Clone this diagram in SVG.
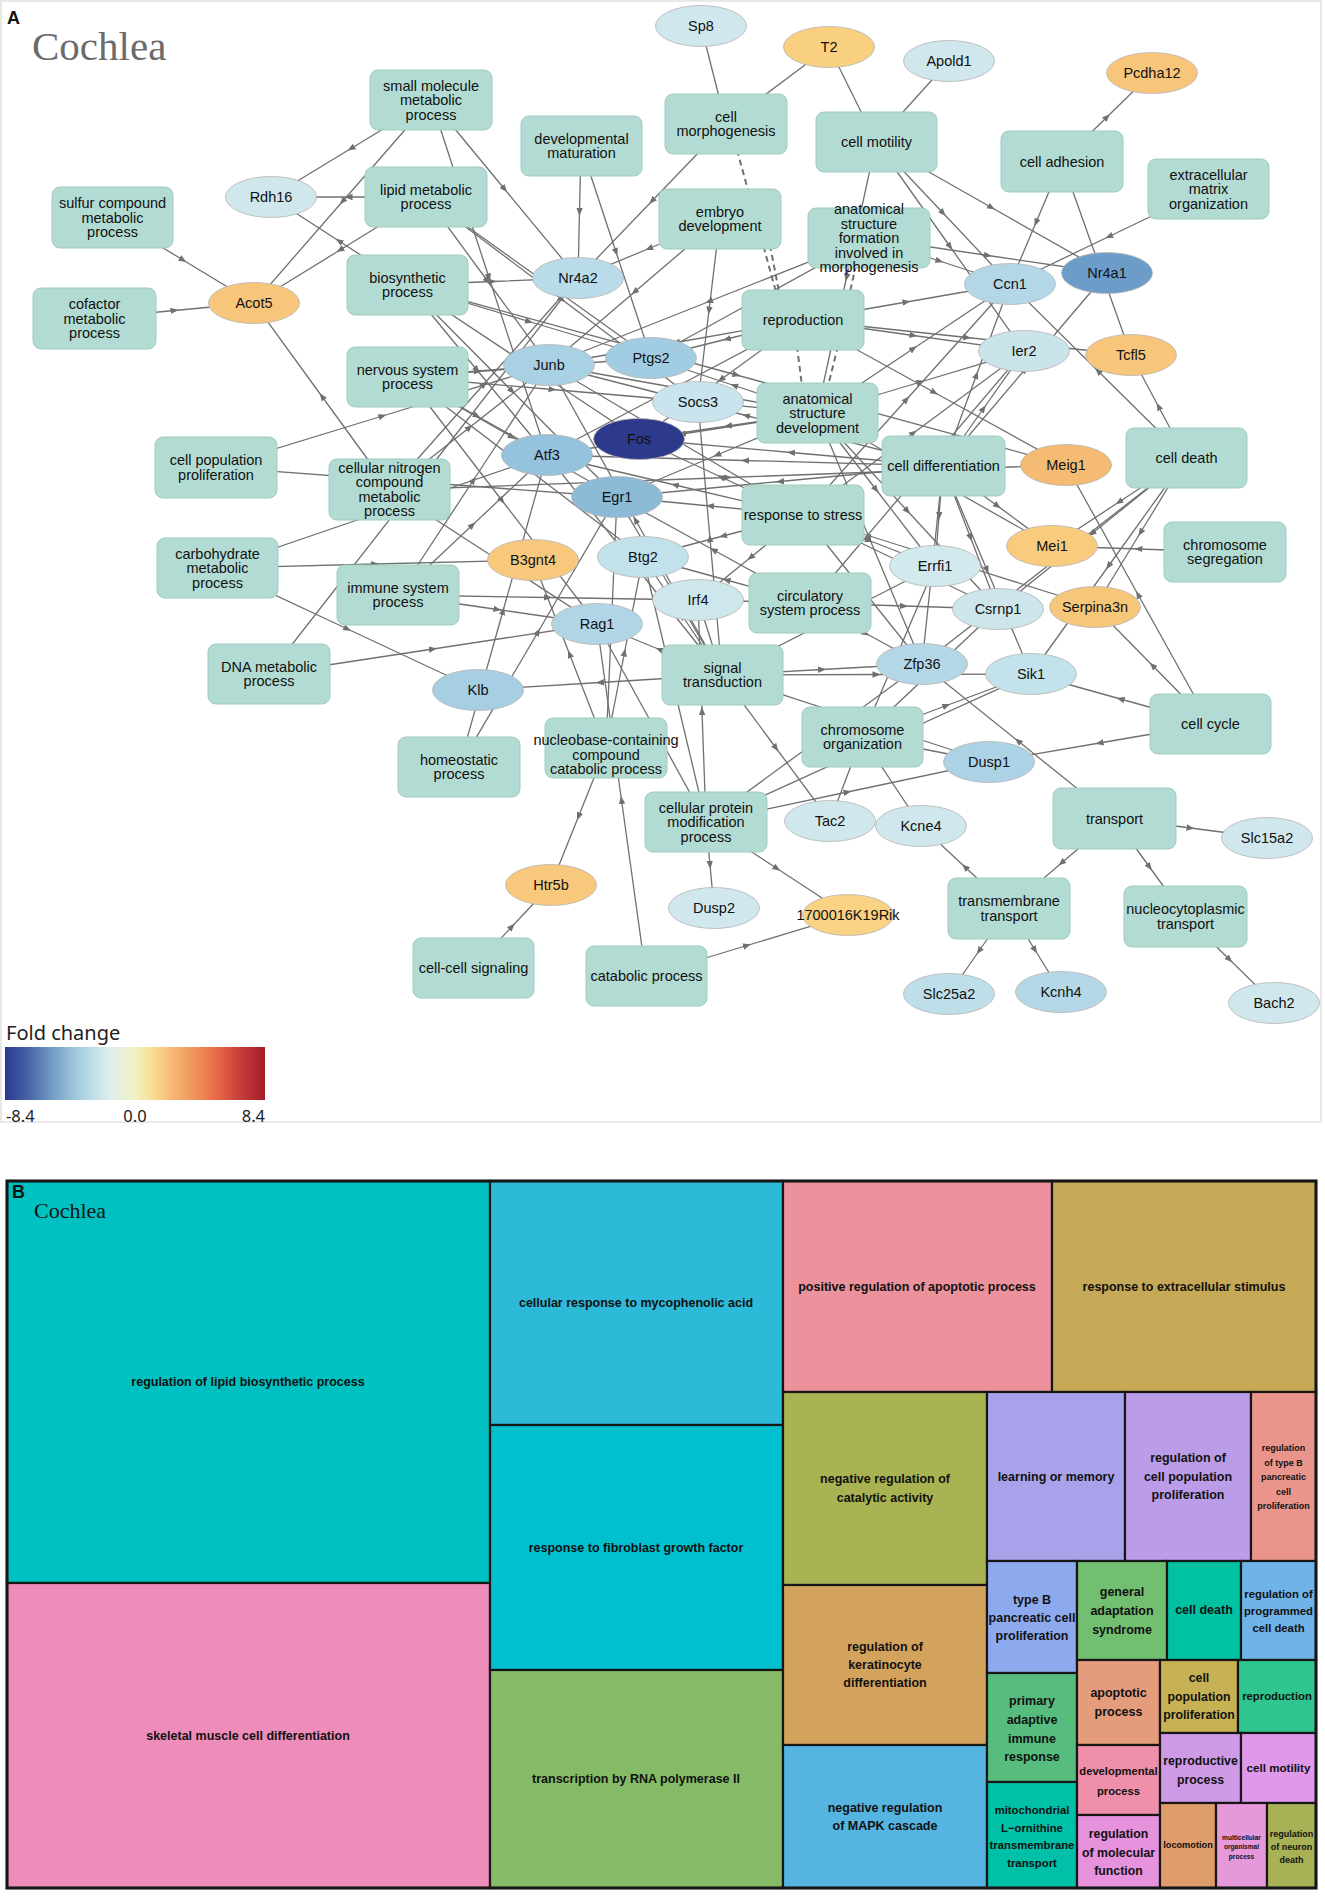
<svg xmlns="http://www.w3.org/2000/svg" width="1325" height="1897" viewBox="0 0 1325 1897">
<defs>
<style>
.e{stroke:#707070;stroke-width:1.3;fill:none;marker-mid:url(#ar)}
.p{stroke:#707070;stroke-width:1.3;fill:none}
.d{stroke:#707070;stroke-width:2;fill:none;stroke-dasharray:6 4}
.r{fill:#b2dcd3;stroke:#a2cac1;stroke-width:1}
.ge{stroke:#b4b4b4;stroke-width:0.8}
.t{font-family:"Liberation Sans",Arial,sans-serif;font-size:14.5px;fill:#111;text-anchor:middle}
.cell{stroke:#161616;stroke-width:2.2}
.tt{font-family:"Liberation Sans",Arial,sans-serif;font-weight:bold;font-size:12.5px;fill:#111;text-anchor:middle}
.lg{font-family:"Noto Sans","Liberation Sans",sans-serif;fill:#222}
</style>
<marker id="ar" viewBox="0 0 10 10" refX="5" refY="5" markerWidth="8" markerHeight="8" markerUnits="userSpaceOnUse" orient="auto"><path d="M0,1 L10,5 L0,9 z" fill="#707070"/></marker>
<linearGradient id="fc" x1="0" y1="0" x2="1" y2="0">
<stop offset="0" stop-color="#2b3990"/><stop offset="0.1" stop-color="#4a6aa8"/><stop offset="0.2" stop-color="#7aa7ca"/><stop offset="0.3" stop-color="#aed3e3"/><stop offset="0.4" stop-color="#dcedee"/><stop offset="0.5" stop-color="#f3f2c4"/><stop offset="0.57" stop-color="#f8dc90"/><stop offset="0.65" stop-color="#f5b572"/><stop offset="0.75" stop-color="#ef8a56"/><stop offset="0.82" stop-color="#e66646"/><stop offset="0.9" stop-color="#c8403a"/><stop offset="1" stop-color="#a51c2c"/>
</linearGradient>
</defs>
<rect x="0" y="0" width="1325" height="1897" fill="#ffffff"/>
<rect x="1" y="1" width="1320" height="1121" fill="#ffffff" stroke="#e8e8e8" stroke-width="2"/>
<text x="7" y="24" style="font-family:'Liberation Sans',Arial,sans-serif;font-weight:bold;font-size:18px;fill:#111">A</text>
<text x="32" y="60" style="font-family:'Liberation Serif','Times New Roman',serif;font-size:41px;fill:#6b6b6b">Cochlea</text>

<g id="connectors">
<path class="e" d="M431 100L351 148.5L271 197"/>
<path class="e" d="M431 100L342.5 201.5L254 303"/>
<path class="e" d="M431 100L504.5 189L578 278"/>
<path class="e" d="M431 100L489 277.5L547 455"/>
<path class="e" d="M426 197L348.5 197L271 197"/>
<path class="e" d="M426 197L340 250L254 303"/>
<path class="e" d="M426 197L538.5 277.5L651 358"/>
<path class="e" d="M426 197L562 299.5L698 402"/>
<path class="e" d="M426 197L487.5 281L549 365"/>
<path class="e" d="M112 217L183 260L254 303"/>
<path class="e" d="M95 318L174.5 310.5L254 303"/>
<path class="e" d="M407 285L339 241L271 197"/>
<path class="e" d="M407 285L492.5 281.5L578 278"/>
<path class="e" d="M407 285L529 321.5L651 358"/>
<path class="e" d="M407 285L523 362L639 439"/>
<path class="e" d="M407 285L477 370L547 455"/>
<path class="e" d="M407 285L512 391L617 497"/>
<path class="e" d="M407 285L736.5 375L1066 465"/>
<path class="e" d="M390 490L322 396.5L254 303"/>
<path class="e" d="M407 377L478 371L549 365"/>
<path class="e" d="M407 377L529 367.5L651 358"/>
<path class="e" d="M407 377L512 437L617 497"/>
<path class="e" d="M407 377L552.5 389.5L698 402"/>
<path class="e" d="M407 377L525 467L643 557"/>
<path class="e" d="M407 377L477 416L547 455"/>
<path class="e" d="M407 377L502 500.5L597 624"/>
<path class="e" d="M216 467L382.5 416L549 365"/>
<path class="e" d="M216 467L416.5 482L617 497"/>
<path class="e" d="M217 568L382 511.5L547 455"/>
<path class="e" d="M217 568L375 564L533 560"/>
<path class="e" d="M217 568L347.5 629L478 690"/>
<path class="e" d="M269 674L423.5 476L578 278"/>
<path class="e" d="M269 674L433 649L597 624"/>
<path class="e" d="M390 490L484 384L578 278"/>
<path class="e" d="M390 490L469.5 427.5L549 365"/>
<path class="e" d="M390 490L728 477.5L1066 465"/>
<path class="e" d="M390 490L493.5 557L597 624"/>
<path class="e" d="M398 595L472.5 525L547 455"/>
<path class="e" d="M398 595L548 597.5L698 600"/>
<path class="e" d="M398 595L497.5 609.5L597 624"/>
<path class="e" d="M398 595L473.5 480L549 365"/>
<path class="e" d="M459 767L538 632L617 497"/>
<path class="e" d="M459 767L503 611L547 455"/>
<path class="e" d="M606 748L578.5 816.5L551 885"/>
<path class="e" d="M473 968L512 926.5L551 885"/>
<path class="e" d="M646 976L621.5 800L597 624"/>
<path class="e" d="M646 976L747 945.5L848 915"/>
<path class="e" d="M706 822L710 865L714 908"/>
<path class="e" d="M706 822L777 868.5L848 915"/>
<path class="e" d="M706 822L651.5 723L597 624"/>
<path class="e" d="M706 822L674.5 689.5L643 557"/>
<path class="e" d="M706 822L702 711L698 600"/>
<path class="e" d="M706 822L814 743L922 664"/>
<path class="e" d="M706 822L868.5 748L1031 674"/>
<path class="e" d="M706 822L847.5 792L989 762"/>
<path class="e" d="M606 748L611.5 622.5L617 497"/>
<path class="e" d="M606 748L569.5 654L533 560"/>
<path class="e" d="M606 748L624.5 652.5L643 557"/>
<path class="e" d="M581 146L579.5 212L578 278"/>
<path class="e" d="M581 146L616 252L651 358"/>
<path class="p" d="M726 124L701 26"/>
<path class="p" d="M726 124L829 47"/>
<path class="e" d="M726 124L652 201L578 278"/>
<path class="p" d="M876 142L829 47"/>
<path class="p" d="M876 142L949 61"/>
<path class="e" d="M720 219L649 248.5L578 278"/>
<path class="e" d="M720 219L634.5 292L549 365"/>
<path class="e" d="M720 219L709 310.5L698 402"/>
<path class="e" d="M869 238L939.5 261L1010 284"/>
<path class="e" d="M869 238L988 255.5L1107 273"/>
<path class="e" d="M869 238L760 298L651 358"/>
<path class="e" d="M869 238L709 301.5L549 365"/>
<path class="e" d="M803 320L727 339L651 358"/>
<path class="e" d="M803 320L676 342.5L549 365"/>
<path class="e" d="M803 320L906.5 302L1010 284"/>
<path class="e" d="M803 320L913.5 335.5L1024 351"/>
<path class="e" d="M803 320L934.5 392.5L1066 465"/>
<path class="e" d="M803 320L675 387.5L547 455"/>
<path class="e" d="M803 320L721 379.5L639 439"/>
<path class="e" d="M803 320L967 337.5L1131 355"/>
<path class="e" d="M876 142L943 213L1010 284"/>
<path class="e" d="M876 142L950 246.5L1024 351"/>
<path class="e" d="M876 142L991.5 207.5L1107 273"/>
<path class="e" d="M876 142L846.5 277.5L817 413"/>
<path class="e" d="M1062 161L1107 117L1152 73"/>
<path class="e" d="M1062 161L1036 222.5L1010 284"/>
<path class="e" d="M1062 161L1096.5 258L1131 355"/>
<path class="e" d="M1208 189L1109 236.5L1010 284"/>
<path class="e" d="M1186 458L1098 371L1010 284"/>
<path class="e" d="M1186 458L1158.5 406.5L1131 355"/>
<path class="e" d="M1186 458L1119 502L1052 546"/>
<path class="e" d="M1186 458L1140.5 532.5L1095 607"/>
<path class="e" d="M1186 458L1092 533.5L998 609"/>
<path class="e" d="M1186 458L1108.5 566L1031 674"/>
<path class="e" d="M1186 458L1054 561L922 664"/>
<path class="e" d="M943 466L1025 369.5L1107 273"/>
<path class="e" d="M943 466L976.5 375L1010 284"/>
<path class="e" d="M943 466L983.5 408.5L1024 351"/>
<path class="e" d="M943 466L997.5 506L1052 546"/>
<path class="e" d="M943 466L970.5 537.5L998 609"/>
<path class="e" d="M943 466L939 516L935 566"/>
<path class="e" d="M943 466L987 570L1031 674"/>
<path class="e" d="M943 466L932.5 565L922 664"/>
<path class="e" d="M943 466L745 460.5L547 455"/>
<path class="e" d="M943 466L780 481.5L617 497"/>
<path class="e" d="M943 466L791 452.5L639 439"/>
<path class="e" d="M943 466L746 415.5L549 365"/>
<path class="e" d="M1225 552L1138.5 549L1052 546"/>
<path class="e" d="M1210 724L1138 594.5L1066 465"/>
<path class="e" d="M1210 724L1120.5 699L1031 674"/>
<path class="e" d="M1210 724L1152.5 665.5L1095 607"/>
<path class="e" d="M1210 724L1099.5 743L989 762"/>
<path class="e" d="M862 737L946.5 705.5L1031 674"/>
<path class="p" d="M862 737L989 762"/>
<path class="p" d="M862 737L921 826"/>
<path class="p" d="M862 737L830 821"/>
<path class="e" d="M862 737L898.5 651.5L935 566"/>
<path class="e" d="M862 737L930 673L998 609"/>
<path class="e" d="M1114 818L1018 741L922 664"/>
<path class="e" d="M1114 818L1190.5 828L1267 838"/>
<path class="e" d="M1114 818L1061.5 863L1009 908"/>
<path class="e" d="M1114 818L1149.5 867L1185 916"/>
<path class="e" d="M1009 908L965 867L921 826"/>
<path class="e" d="M1009 908L979 951L949 994"/>
<path class="e" d="M1009 908L1035 950L1061 992"/>
<path class="e" d="M1185 916L1229.5 959.5L1274 1003"/>
<path class="e" d="M722 675L776 748L830 821"/>
<path class="e" d="M722 675L600 682.5L478 690"/>
<path class="e" d="M722 675L659.5 649.5L597 624"/>
<path class="e" d="M722 675L682.5 616L643 557"/>
<path class="p" d="M722 675L698 600"/>
<path class="e" d="M722 675L669.5 586L617 497"/>
<path class="e" d="M722 675L634.5 565L547 455"/>
<path class="e" d="M722 675L822 669.5L922 664"/>
<path class="e" d="M722 675L876.5 674.5L1031 674"/>
<path class="e" d="M722 675L828.5 620.5L935 566"/>
<path class="e" d="M722 675L855.5 718.5L989 762"/>
<path class="e" d="M722 675L710 538.5L698 402"/>
<path class="e" d="M722 675L635.5 520L549 365"/>
<path class="e" d="M817 413L728 426L639 439"/>
<path class="p" d="M817 413L698 402"/>
<path class="e" d="M817 413L683 389L549 365"/>
<path class="e" d="M817 413L734 385.5L651 358"/>
<path class="e" d="M817 413L682 434L547 455"/>
<path class="e" d="M817 413L717 455L617 497"/>
<path class="e" d="M817 413L876 489.5L935 566"/>
<path class="e" d="M817 413L907.5 511L998 609"/>
<path class="e" d="M817 413L869.5 538.5L922 664"/>
<path class="e" d="M817 413L913.5 348.5L1010 284"/>
<path class="e" d="M817 413L920.5 382L1024 351"/>
<path class="e" d="M817 413L934.5 479.5L1052 546"/>
<path class="e" d="M803 515L710 506L617 497"/>
<path class="e" d="M803 515L723 536L643 557"/>
<path class="e" d="M803 515L750.5 557.5L698 600"/>
<path class="e" d="M803 515L721 477L639 439"/>
<path class="e" d="M803 515L675 485L547 455"/>
<path class="e" d="M803 515L676 440L549 365"/>
<path class="e" d="M803 515L906.5 399.5L1010 284"/>
<path class="e" d="M803 515L913.5 433L1024 351"/>
<path class="e" d="M803 515L869 540.5L935 566"/>
<path class="e" d="M803 515L862.5 589.5L922 664"/>
<path class="e" d="M803 515L900.5 562L998 609"/>
<path class="e" d="M803 515L949 561L1095 607"/>
<path class="p" d="M810 603L698 600"/>
<path class="e" d="M810 603L726.5 580L643 557"/>
<path class="e" d="M810 603L866 633.5L922 664"/>
<path class="e" d="M810 603L917 477L1024 351"/>
<path class="e" d="M810 603L713.5 550L617 497"/>
<path class="e" d="M810 603L904 606L998 609"/>
<path class="d" d="M737 150L776 292"/>
<path class="d" d="M770 245L779 292"/>
<path class="d" d="M856 265L850 292"/>
<path class="d" d="M797 346L802 386"/>
<path class="d" d="M838 346L828 386"/>
</g>

<g id="n-smm"><rect class="r" x="370" y="70" width="122" height="60" rx="8"/><text class="t" x="431" y="90.5"><tspan x="431">small molecule</tspan><tspan x="431" dy="14.5">metabolic</tspan><tspan x="431" dy="14.5">process</tspan></text></g>
<g id="n-lmp"><rect class="r" x="365" y="167" width="122" height="60" rx="8"/><text class="t" x="426" y="194.75"><tspan x="426">lipid metabolic</tspan><tspan x="426" dy="14.5">process</tspan></text></g>
<g id="n-sulf"><rect class="r" x="52" y="187" width="121" height="61" rx="8"/><text class="t" x="112.5" y="208"><tspan x="112.5">sulfur compound</tspan><tspan x="112.5" dy="14.5">metabolic</tspan><tspan x="112.5" dy="14.5">process</tspan></text></g>
<g id="n-cof"><rect class="r" x="33" y="288" width="123" height="61" rx="8"/><text class="t" x="94.5" y="309"><tspan x="94.5">cofactor</tspan><tspan x="94.5" dy="14.5">metabolic</tspan><tspan x="94.5" dy="14.5">process</tspan></text></g>
<g id="n-bio"><rect class="r" x="347" y="255" width="121" height="60" rx="8"/><text class="t" x="407.5" y="282.75"><tspan x="407.5">biosynthetic</tspan><tspan x="407.5" dy="14.5">process</tspan></text></g>
<g id="n-nsp"><rect class="r" x="347" y="347" width="121" height="60" rx="8"/><text class="t" x="407.5" y="374.75"><tspan x="407.5">nervous system</tspan><tspan x="407.5" dy="14.5">process</tspan></text></g>
<g id="n-dm"><rect class="r" x="521" y="116" width="121" height="60" rx="8"/><text class="t" x="581.5" y="143.75"><tspan x="581.5">developmental</tspan><tspan x="581.5" dy="14.5">maturation</tspan></text></g>
<g id="n-cm"><rect class="r" x="665" y="94" width="122" height="60" rx="8"/><text class="t" x="726" y="121.75"><tspan x="726">cell</tspan><tspan x="726" dy="14.5">morphogenesis</tspan></text></g>
<g id="n-cmot"><rect class="r" x="816" y="112" width="121" height="60" rx="8"/><text class="t" x="876.5" y="147">cell motility</text></g>
<g id="n-ed"><rect class="r" x="659" y="189" width="122" height="60" rx="8"/><text class="t" x="720" y="216.75"><tspan x="720">embryo</tspan><tspan x="720" dy="14.5">development</tspan></text></g>
<g id="n-asfm"><rect class="r" x="808" y="208" width="122" height="60" rx="8"/><text class="t" x="869" y="214"><tspan x="869">anatomical</tspan><tspan x="869" dy="14.5">structure</tspan><tspan x="869" dy="14.5">formation</tspan><tspan x="869" dy="14.5">involved in</tspan><tspan x="869" dy="14.5">morphogenesis</tspan></text></g>
<g id="n-rep"><rect class="r" x="742" y="290" width="122" height="60" rx="8"/><text class="t" x="803" y="325">reproduction</text></g>
<g id="n-cad"><rect class="r" x="1001" y="131" width="122" height="61" rx="8"/><text class="t" x="1062" y="166.5">cell adhesion</text></g>
<g id="n-ecm"><rect class="r" x="1148" y="159" width="121" height="60" rx="8"/><text class="t" x="1208.5" y="179.5"><tspan x="1208.5">extracellular</tspan><tspan x="1208.5" dy="14.5">matrix</tspan><tspan x="1208.5" dy="14.5">organization</tspan></text></g>
<g id="n-asd"><rect class="r" x="757" y="383" width="121" height="60" rx="8"/><text class="t" x="817.5" y="403.5"><tspan x="817.5">anatomical</tspan><tspan x="817.5" dy="14.5">structure</tspan><tspan x="817.5" dy="14.5">development</tspan></text></g>
<g id="n-cpp"><rect class="r" x="155" y="437" width="122" height="61" rx="8"/><text class="t" x="216" y="465.25"><tspan x="216">cell population</tspan><tspan x="216" dy="14.5">proliferation</tspan></text></g>
<g id="n-cnc"><rect class="r" x="329" y="459" width="121" height="61" rx="8"/><text class="t" x="389.5" y="472.75"><tspan x="389.5">cellular nitrogen</tspan><tspan x="389.5" dy="14.5">compound</tspan><tspan x="389.5" dy="14.5">metabolic</tspan><tspan x="389.5" dy="14.5">process</tspan></text></g>
<g id="n-cd"><rect class="r" x="882" y="436" width="123" height="60" rx="8"/><text class="t" x="943.5" y="471">cell differentiation</text></g>
<g id="n-cdeath"><rect class="r" x="1126" y="428" width="121" height="60" rx="8"/><text class="t" x="1186.5" y="463">cell death</text></g>
<g id="n-rts"><rect class="r" x="742" y="485" width="122" height="60" rx="8"/><text class="t" x="803" y="520">response to stress</text></g>
<g id="n-carb"><rect class="r" x="157" y="538" width="121" height="60" rx="8"/><text class="t" x="217.5" y="558.5"><tspan x="217.5">carbohydrate</tspan><tspan x="217.5" dy="14.5">metabolic</tspan><tspan x="217.5" dy="14.5">process</tspan></text></g>
<g id="n-isp"><rect class="r" x="337" y="565" width="122" height="60" rx="8"/><text class="t" x="398" y="592.75"><tspan x="398">immune system</tspan><tspan x="398" dy="14.5">process</tspan></text></g>
<g id="n-csp"><rect class="r" x="749" y="573" width="122" height="60" rx="8"/><text class="t" x="810" y="600.75"><tspan x="810">circulatory</tspan><tspan x="810" dy="14.5">system process</tspan></text></g>
<g id="n-cseg"><rect class="r" x="1164" y="522" width="122" height="60" rx="8"/><text class="t" x="1225" y="549.75"><tspan x="1225">chromosome</tspan><tspan x="1225" dy="14.5">segregation</tspan></text></g>
<g id="n-dna"><rect class="r" x="208" y="644" width="122" height="60" rx="8"/><text class="t" x="269" y="671.75"><tspan x="269">DNA metabolic</tspan><tspan x="269" dy="14.5">process</tspan></text></g>
<g id="n-st"><rect class="r" x="662" y="645" width="121" height="60" rx="8"/><text class="t" x="722.5" y="672.75"><tspan x="722.5">signal</tspan><tspan x="722.5" dy="14.5">transduction</tspan></text></g>
<g id="n-ccyc"><rect class="r" x="1150" y="694" width="121" height="60" rx="8"/><text class="t" x="1210.5" y="729">cell cycle</text></g>
<g id="n-corg"><rect class="r" x="802" y="707" width="121" height="60" rx="8"/><text class="t" x="862.5" y="734.75"><tspan x="862.5">chromosome</tspan><tspan x="862.5" dy="14.5">organization</tspan></text></g>
<g id="n-hom"><rect class="r" x="398" y="737" width="122" height="60" rx="8"/><text class="t" x="459" y="764.75"><tspan x="459">homeostatic</tspan><tspan x="459" dy="14.5">process</tspan></text></g>
<g id="n-nuc"><rect class="r" x="545" y="718" width="122" height="60" rx="8"/><text class="t" x="606" y="745"><tspan x="606">nucleobase-containing</tspan><tspan x="606" dy="14.5">compound</tspan><tspan x="606" dy="14.5">catabolic process</tspan></text></g>
<g id="n-cpm"><rect class="r" x="645" y="792" width="122" height="60" rx="8"/><text class="t" x="706" y="812.5"><tspan x="706">cellular protein</tspan><tspan x="706" dy="14.5">modification</tspan><tspan x="706" dy="14.5">process</tspan></text></g>
<g id="n-trans"><rect class="r" x="1053" y="788" width="123" height="61" rx="8"/><text class="t" x="1114.5" y="823.5">transport</text></g>
<g id="n-tmt"><rect class="r" x="948" y="878" width="122" height="61" rx="8"/><text class="t" x="1009" y="906.25"><tspan x="1009">transmembrane</tspan><tspan x="1009" dy="14.5">transport</tspan></text></g>
<g id="n-nct"><rect class="r" x="1124" y="886" width="123" height="61" rx="8"/><text class="t" x="1185.5" y="914.25"><tspan x="1185.5">nucleocytoplasmic</tspan><tspan x="1185.5" dy="14.5">transport</tspan></text></g>
<g id="n-ccs"><rect class="r" x="413" y="938" width="121" height="60" rx="8"/><text class="t" x="473.5" y="973">cell-cell signaling</text></g>
<g id="n-cat"><rect class="r" x="586" y="946" width="121" height="60" rx="8"/><text class="t" x="646.5" y="981">catabolic process</text></g>

<g id="n-Sp8"><ellipse class="ge" cx="701" cy="26" rx="45.5" ry="20.5" fill="#cfe7ed"/><text class="t" x="701" y="31">Sp8</text></g>
<g id="n-T2"><ellipse class="ge" cx="829" cy="47" rx="45.5" ry="20.5" fill="#f9cf80"/><text class="t" x="829" y="52">T2</text></g>
<g id="n-Apold1"><ellipse class="ge" cx="949" cy="61" rx="45.5" ry="20.5" fill="#cfe7ed"/><text class="t" x="949" y="66">Apold1</text></g>
<g id="n-Pcdha12"><ellipse class="ge" cx="1152" cy="73" rx="45.5" ry="20.5" fill="#f7c67a"/><text class="t" x="1152" y="78">Pcdha12</text></g>
<g id="n-Rdh16"><ellipse class="ge" cx="271" cy="197" rx="45.5" ry="20.5" fill="#cfe7ed"/><text class="t" x="271" y="202">Rdh16</text></g>
<g id="n-Acot5"><ellipse class="ge" cx="254" cy="303" rx="45.5" ry="20.5" fill="#f7c67a"/><text class="t" x="254" y="308">Acot5</text></g>
<g id="n-Nr4a2"><ellipse class="ge" cx="578" cy="278" rx="45.5" ry="20.5" fill="#badcea"/><text class="t" x="578" y="283">Nr4a2</text></g>
<g id="n-Junb"><ellipse class="ge" cx="549" cy="365" rx="45.5" ry="20.5" fill="#a9d1e4"/><text class="t" x="549" y="370">Junb</text></g>
<g id="n-Ptgs2"><ellipse class="ge" cx="651" cy="358" rx="45.5" ry="20.5" fill="#a2cce2"/><text class="t" x="651" y="363">Ptgs2</text></g>
<g id="n-Ccn1"><ellipse class="ge" cx="1010" cy="284" rx="45.5" ry="20.5" fill="#b3d7e7"/><text class="t" x="1010" y="289">Ccn1</text></g>
<g id="n-Nr4a1"><ellipse class="ge" cx="1107" cy="273" rx="45.5" ry="20.5" fill="#6b9dc8"/><text class="t" x="1107" y="278">Nr4a1</text></g>
<g id="n-Ier2"><ellipse class="ge" cx="1024" cy="351" rx="45.5" ry="20.5" fill="#cae4ec"/><text class="t" x="1024" y="356">Ier2</text></g>
<g id="n-Tcfl5"><ellipse class="ge" cx="1131" cy="355" rx="45.5" ry="20.5" fill="#f7c67a"/><text class="t" x="1131" y="360">Tcfl5</text></g>
<g id="n-Socs3"><ellipse class="ge" cx="698" cy="402" rx="45.5" ry="20.5" fill="#c9e4ec"/><text class="t" x="698" y="407">Socs3</text></g>
<g id="n-Fos"><ellipse class="ge" cx="639" cy="439" rx="45.5" ry="20.5" fill="#2d3a8c"/><text class="t" x="639" y="444">Fos</text></g>
<g id="n-Atf3"><ellipse class="ge" cx="547" cy="455" rx="45.5" ry="20.5" fill="#95c2dc"/><text class="t" x="547" y="460">Atf3</text></g>
<g id="n-Egr1"><ellipse class="ge" cx="617" cy="497" rx="45.5" ry="20.5" fill="#8cbbd7"/><text class="t" x="617" y="502">Egr1</text></g>
<g id="n-Meig1"><ellipse class="ge" cx="1066" cy="465" rx="45.5" ry="20.5" fill="#f5bb72"/><text class="t" x="1066" y="470">Meig1</text></g>
<g id="n-Mei1"><ellipse class="ge" cx="1052" cy="546" rx="45.5" ry="20.5" fill="#f8cb7d"/><text class="t" x="1052" y="551">Mei1</text></g>
<g id="n-B3gnt4"><ellipse class="ge" cx="533" cy="560" rx="45.5" ry="20.5" fill="#f8c97d"/><text class="t" x="533" y="565">B3gnt4</text></g>
<g id="n-Btg2"><ellipse class="ge" cx="643" cy="557" rx="45.5" ry="20.5" fill="#c3e1ea"/><text class="t" x="643" y="562">Btg2</text></g>
<g id="n-Errfi1"><ellipse class="ge" cx="935" cy="566" rx="45.5" ry="20.5" fill="#d2e9ee"/><text class="t" x="935" y="571">Errfi1</text></g>
<g id="n-Irf4"><ellipse class="ge" cx="698" cy="600" rx="45.5" ry="20.5" fill="#cee7ed"/><text class="t" x="698" y="605">Irf4</text></g>
<g id="n-Csrnp1"><ellipse class="ge" cx="998" cy="609" rx="45.5" ry="20.5" fill="#cde6ec"/><text class="t" x="998" y="614">Csrnp1</text></g>
<g id="n-Serpina3n"><ellipse class="ge" cx="1095" cy="607" rx="45.5" ry="20.5" fill="#f6c679"/><text class="t" x="1095" y="612">Serpina3n</text></g>
<g id="n-Rag1"><ellipse class="ge" cx="597" cy="624" rx="45.5" ry="20.5" fill="#b0d5e6"/><text class="t" x="597" y="629">Rag1</text></g>
<g id="n-Zfp36"><ellipse class="ge" cx="922" cy="664" rx="45.5" ry="20.5" fill="#b3d7e6"/><text class="t" x="922" y="669">Zfp36</text></g>
<g id="n-Sik1"><ellipse class="ge" cx="1031" cy="674" rx="45.5" ry="20.5" fill="#c4e2eb"/><text class="t" x="1031" y="679">Sik1</text></g>
<g id="n-Klb"><ellipse class="ge" cx="478" cy="690" rx="45.5" ry="20.5" fill="#a6cfe3"/><text class="t" x="478" y="695">Klb</text></g>
<g id="n-Dusp1"><ellipse class="ge" cx="989" cy="762" rx="45.5" ry="20.5" fill="#acd3e5"/><text class="t" x="989" y="767">Dusp1</text></g>
<g id="n-Tac2"><ellipse class="ge" cx="830" cy="821" rx="45.5" ry="20.5" fill="#d0e8ed"/><text class="t" x="830" y="826">Tac2</text></g>
<g id="n-Kcne4"><ellipse class="ge" cx="921" cy="826" rx="45.5" ry="20.5" fill="#d0e8ed"/><text class="t" x="921" y="831">Kcne4</text></g>
<g id="n-Slc15a2"><ellipse class="ge" cx="1267" cy="838" rx="45.5" ry="20.5" fill="#d0e8ed"/><text class="t" x="1267" y="843">Slc15a2</text></g>
<g id="n-Htr5b"><ellipse class="ge" cx="551" cy="885" rx="45.5" ry="20.5" fill="#f8c97d"/><text class="t" x="551" y="890">Htr5b</text></g>
<g id="n-Dusp2"><ellipse class="ge" cx="714" cy="908" rx="45.5" ry="20.5" fill="#cfe7ed"/><text class="t" x="714" y="913">Dusp2</text></g>
<g id="n-Rik"><ellipse class="ge" cx="848" cy="915" rx="45.5" ry="20.5" fill="#f9d283"/><text class="t" x="848" y="920">1700016K19Rik</text></g>
<g id="n-Slc25a2"><ellipse class="ge" cx="949" cy="994" rx="45.5" ry="20.5" fill="#bedeea"/><text class="t" x="949" y="999">Slc25a2</text></g>
<g id="n-Kcnh4"><ellipse class="ge" cx="1061" cy="992" rx="45.5" ry="20.5" fill="#b4d8e7"/><text class="t" x="1061" y="997">Kcnh4</text></g>
<g id="n-Bach2"><ellipse class="ge" cx="1274" cy="1003" rx="45.5" ry="20.5" fill="#d0e8ed"/><text class="t" x="1274" y="1008">Bach2</text></g>

<g id="legend">
<text class="lg" x="6" y="1040" font-size="20">Fold change</text>
<rect x="5" y="1047" width="260" height="53" fill="url(#fc)"/>
<text class="lg" x="6" y="1122" font-size="16.5">-8.4</text>
<text class="lg" x="135" y="1122" font-size="16.5" text-anchor="middle">0.0</text>
<text class="lg" x="265" y="1122" font-size="16.5" text-anchor="end">8.4</text>
</g>

<g id="treemap">
<rect class="cell" x="7" y="1181" width="483" height="402" fill="#00c1c1"/>
<rect class="cell" x="7" y="1583" width="483" height="305" fill="#ee8cba"/>
<rect class="cell" x="490" y="1181" width="293" height="244" fill="#2cbad8"/>
<rect class="cell" x="490" y="1425" width="293" height="245" fill="#00bfcf"/>
<rect class="cell" x="490" y="1670" width="293" height="218" fill="#85bb66"/>
<rect class="cell" x="783" y="1181" width="269" height="211" fill="#ec929c"/>
<rect class="cell" x="1052" y="1181" width="264" height="211" fill="#c6a956"/>
<rect class="cell" x="783" y="1392" width="204" height="193" fill="#a9b351"/>
<rect class="cell" x="783" y="1585" width="204" height="160" fill="#d3a35e"/>
<rect class="cell" x="783" y="1745" width="204" height="143" fill="#55b4e0"/>
<rect class="cell" x="987" y="1392" width="138" height="169" fill="#a7a2ea"/>
<rect class="cell" x="1125" y="1392" width="126" height="169" fill="#bb9ce8"/>
<rect class="cell" x="1251" y="1392" width="65" height="169" fill="#e9958c"/>
<rect class="cell" x="987" y="1561" width="90" height="112" fill="#8eaaee"/>
<rect class="cell" x="987" y="1673" width="90" height="109" fill="#56bd7e"/>
<rect class="cell" x="987" y="1782" width="90" height="106" fill="#00c0a8"/>
<rect class="cell" x="1077" y="1561" width="90" height="99" fill="#72bf72"/>
<rect class="cell" x="1167" y="1561" width="74" height="99" fill="#00c1a1"/>
<rect class="cell" x="1241" y="1561" width="75" height="99" fill="#6fb3e8"/>
<rect class="cell" x="1077" y="1660" width="83" height="85" fill="#e49c7c"/>
<rect class="cell" x="1077" y="1745" width="83" height="70" fill="#ee90aa"/>
<rect class="cell" x="1077" y="1815" width="83" height="73" fill="#e692dc"/>
<rect class="cell" x="1160" y="1660" width="78" height="73" fill="#c6b154"/>
<rect class="cell" x="1238" y="1660" width="78" height="73" fill="#2ec58e"/>
<rect class="cell" x="1160" y="1733" width="81" height="70" fill="#ce9ae6"/>
<rect class="cell" x="1241" y="1733" width="75" height="70" fill="#df98ea"/>
<rect class="cell" x="1160" y="1803" width="56" height="85" fill="#e09d6c"/>
<rect class="cell" x="1216" y="1803" width="51" height="85" fill="#e598da"/>
<rect class="cell" x="1267" y="1803" width="49" height="85" fill="#a8b155"/>
<rect x="7" y="1181" width="1309" height="707" fill="none" stroke="#161616" stroke-width="3"/>

<text class="tt" x="248" y="1386.4">regulation of lipid biosynthetic process</text>
<text class="tt" x="248" y="1740.4">skeletal muscle cell differentiation</text>
<text class="tt" x="636" y="1307.4">cellular response to mycophenolic acid</text>
<text class="tt" x="636" y="1552.4">response to fibroblast growth factor</text>
<text class="tt" x="636" y="1783.4">transcription by RNA polymerase II</text>
<text class="tt" x="917" y="1291.4">positive regulation of apoptotic process</text>
<text class="tt" x="1184" y="1291.4">response to extracellular stimulus</text>
<text class="tt" x="885" y="1483.4"><tspan x="885">negative regulation of</tspan><tspan x="885" dy="19">catalytic activity</tspan></text>
<text class="tt" x="885" y="1651.4"><tspan x="885">regulation of</tspan><tspan x="885" dy="18">keratinocyte</tspan><tspan x="885" dy="18">differentiation</tspan></text>
<text class="tt" x="885" y="1812.4"><tspan x="885">negative regulation</tspan><tspan x="885" dy="18">of MAPK cascade</tspan></text>
<text class="tt" x="1056" y="1481.4">learning or memory</text>
<text class="tt" x="1188" y="1462.4"><tspan x="1188">regulation of</tspan><tspan x="1188" dy="18.5">cell population</tspan><tspan x="1188" dy="18.5">proliferation</tspan></text>
<text class="tt" x="1283.5" y="1451" style="font-size:9px"><tspan x="1283.5">regulation</tspan><tspan x="1283.5" dy="14.5">of type B</tspan><tspan x="1283.5" dy="14.5">pancreatic</tspan><tspan x="1283.5" dy="14.5">cell</tspan><tspan x="1283.5" dy="14.5">proliferation</tspan></text>
<text class="tt" x="1032" y="1604.4"><tspan x="1032">type B</tspan><tspan x="1032" dy="18">pancreatic cell</tspan><tspan x="1032" dy="18">proliferation</tspan></text>
<text class="tt" x="1032" y="1705.4"><tspan x="1032">primary</tspan><tspan x="1032" dy="18.6">adaptive</tspan><tspan x="1032" dy="18.6">immune</tspan><tspan x="1032" dy="18.6">response</tspan></text>
<text class="tt" x="1032" y="1814" style="font-size:11.3px"><tspan x="1032">mitochondrial</tspan><tspan x="1032" dy="17.5">L−ornithine</tspan><tspan x="1032" dy="17.5">transmembrane</tspan><tspan x="1032" dy="17.5">transport</tspan></text>
<text class="tt" x="1122" y="1596.4"><tspan x="1122">general</tspan><tspan x="1122" dy="18.6">adaptation</tspan><tspan x="1122" dy="18.6">syndrome</tspan></text>
<text class="tt" x="1204" y="1614.4">cell death</text>
<text class="tt" x="1278.5" y="1598" style="font-size:11.3px"><tspan x="1278.5">regulation of</tspan><tspan x="1278.5" dy="17">programmed</tspan><tspan x="1278.5" dy="17">cell death</tspan></text>
<text class="tt" x="1118.5" y="1697.4"><tspan x="1118.5">apoptotic</tspan><tspan x="1118.5" dy="19">process</tspan></text>
<text class="tt" x="1118.5" y="1775" style="font-size:11.2px"><tspan x="1118.5">developmental</tspan><tspan x="1118.5" dy="19.5">process</tspan></text>
<text class="tt" x="1118.5" y="1838.3" style="font-size:12.3px"><tspan x="1118.5">regulation</tspan><tspan x="1118.5" dy="18.5">of molecular</tspan><tspan x="1118.5" dy="18.5">function</tspan></text>
<text class="tt" x="1199" y="1682.3" style="font-size:12.3px"><tspan x="1199">cell</tspan><tspan x="1199" dy="18.5">population</tspan><tspan x="1199" dy="18.5">proliferation</tspan></text>
<text class="tt" x="1277" y="1700" style="font-size:11.3px">reproduction</text>
<text class="tt" x="1200.5" y="1765.3" style="font-size:12.3px"><tspan x="1200.5">reproductive</tspan><tspan x="1200.5" dy="19">process</tspan></text>
<text class="tt" x="1278.5" y="1772" style="font-size:11.6px">cell motility</text>
<text class="tt" x="1188" y="1848.2" style="font-size:9.2px">locomotion</text>
<text class="tt" x="1241.5" y="1839.5" style="font-size:6.6px"><tspan x="1241.5">multicellular</tspan><tspan x="1241.5" dy="9.5">organismal</tspan><tspan x="1241.5" dy="9.5">process</tspan></text>
<text class="tt" x="1291.5" y="1837" style="font-size:9px"><tspan x="1291.5">regulation</tspan><tspan x="1291.5" dy="13">of neuron</tspan><tspan x="1291.5" dy="13">death</tspan></text>
<text x="12" y="1198" style="font-family:'Liberation Sans',Arial,sans-serif;font-weight:bold;font-size:18px;fill:#111">B</text>
<text x="34" y="1218" style="font-family:'Liberation Serif','Times New Roman',serif;font-size:22px;fill:#111">Cochlea</text>
</g>
</svg>
